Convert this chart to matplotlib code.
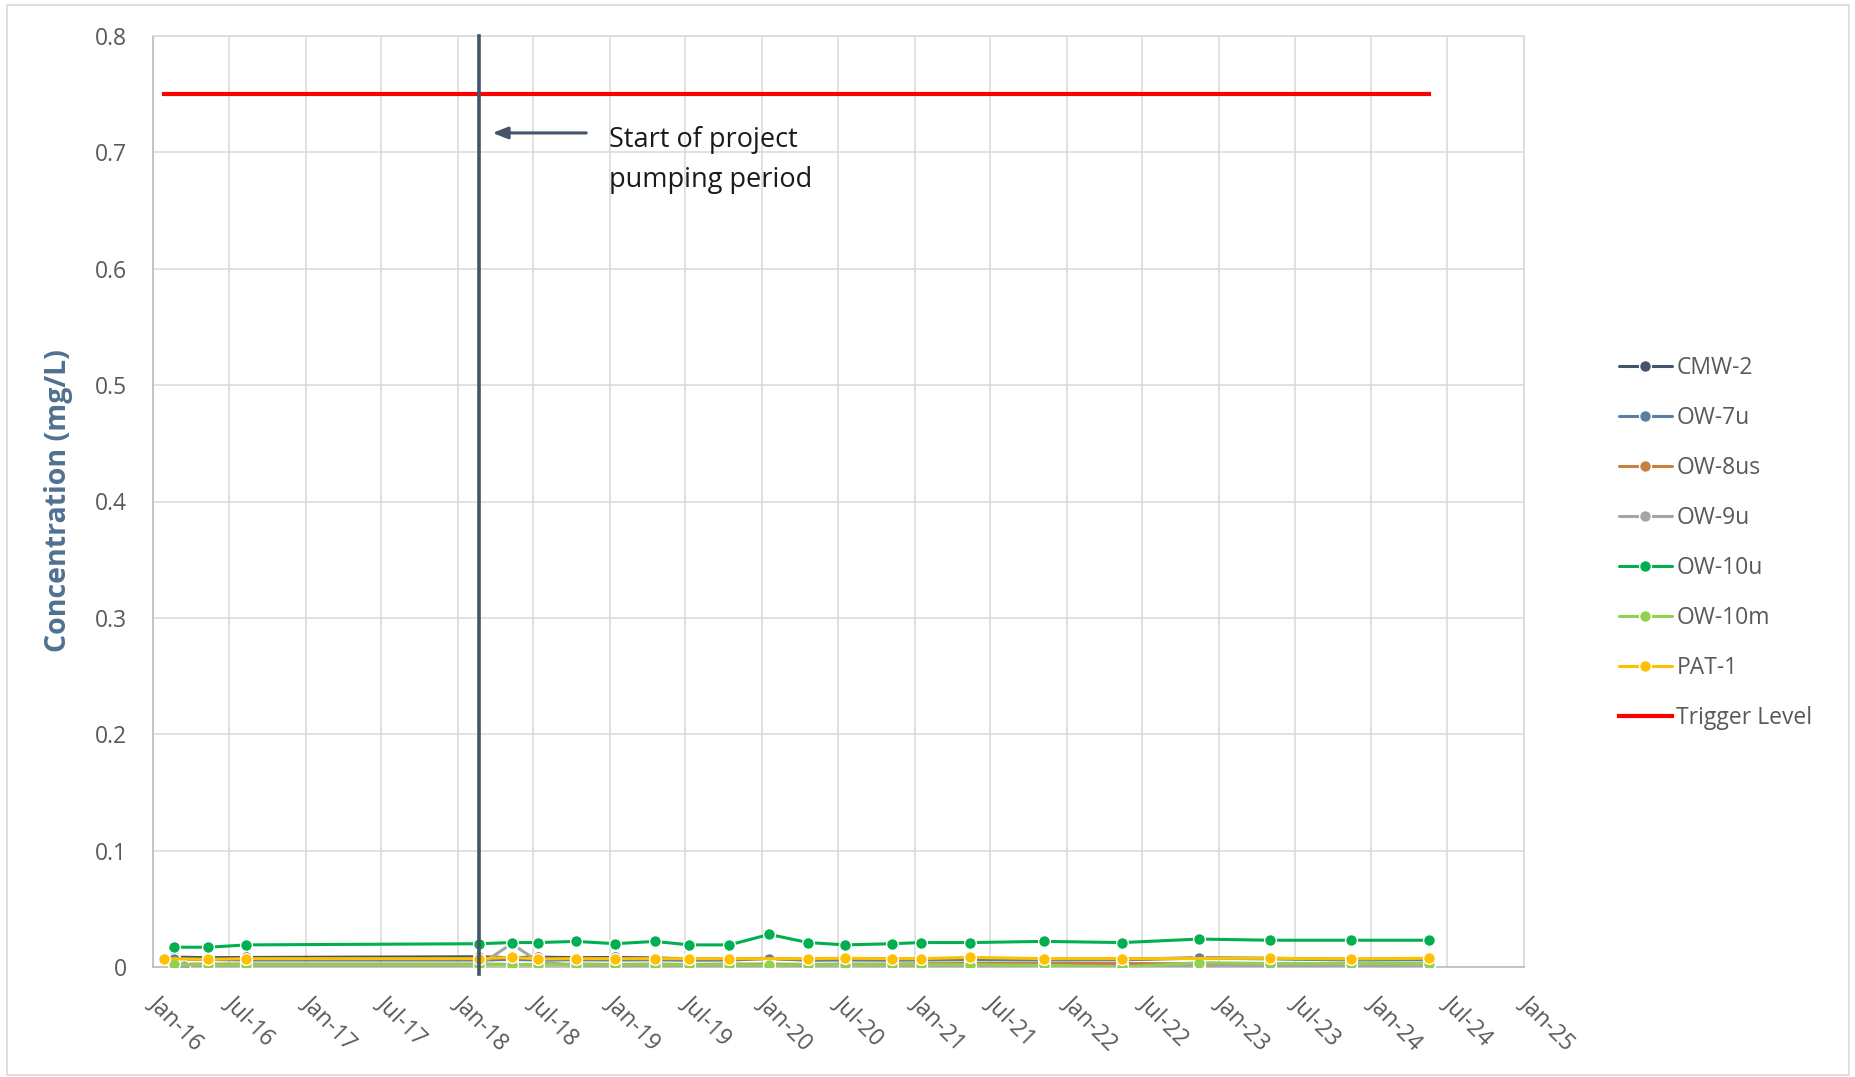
import numpy as np
import matplotlib
matplotlib.use("Agg")
import matplotlib.pyplot as plt
import matplotlib.dates as mdates
from matplotlib.patches import Rectangle
from matplotlib.transforms import ScaledTranslation

plt.rcParams['font.family'] = ['Open Sans', 'DejaVu Sans']

nan = np.nan
dates = ['2016-01-27', '2016-02-20', '2016-03-15', '2016-05-13', '2016-08-12',
         '2018-02-22', '2018-05-10', '2018-07-12', '2018-10-12', '2019-01-14',
         '2019-04-18', '2019-07-10', '2019-10-14', '2020-01-18', '2020-04-20',
         '2020-07-18', '2020-11-08', '2021-01-16', '2021-05-14', '2021-11-06',
         '2022-05-14', '2022-11-14', '2023-05-04', '2023-11-12', '2024-05-18']

cmw2 = [nan, 0.0085, nan, 0.0080, 0.0082, 0.0088, 0.0080, 0.0085, 0.0080, 0.0082, 0.0078, 0.0070, 0.0068,
        0.0075, 0.0062, 0.0068, 0.0068, 0.0065, 0.0070, 0.0065, 0.0068, 0.0078, 0.0075, 0.0065, 0.0068]
ow7u = [nan, 0.0070, nan, 0.0065, 0.0060, 0.0060, 0.0065, 0.0060, 0.0062, 0.0060, 0.0062, 0.0058, 0.0060,
        0.0072, 0.0058, 0.0060, 0.0058, 0.0060, 0.0062, 0.0060, 0.0062, 0.0076, 0.0070, 0.0060, 0.0062]
ow8us = [nan, 0.0025, nan, 0.0025, 0.0025, 0.0025, 0.0022, 0.0020, 0.0025, 0.0022, 0.0025, 0.0022, 0.0025,
         0.0025, 0.0022, 0.0025, 0.0025, 0.0028, 0.0030, 0.0030, 0.0030, 0.0028, 0.0025, 0.0025, 0.0025]
ow9u = [nan, nan, 0.0005, 0.0010, 0.0010, 0.0015, 0.0200, 0.0050, 0.0010, 0.0010, 0.0010, 0.0010, 0.0010,
        0.0010, 0.0010, 0.0020, 0.0010, 0.0010, 0.0010, 0.0010, 0.0005, 0.0010, 0.0010, 0.0005, 0.0000]
ow10u = [nan, 0.017, nan, 0.017, 0.019, 0.020, 0.021, 0.021, 0.022, 0.020, 0.022, 0.019, 0.019,
         0.028, 0.021, 0.019, 0.020, 0.021, 0.021, 0.022, 0.021, 0.024, 0.023, 0.023, 0.023]
ow10m = [nan, 0.0022, nan, 0.0020, 0.0020, 0.0020, 0.0020, 0.0020, 0.0020, 0.0020, 0.0020, 0.0020, 0.0020,
         0.0017, 0.0020, 0.0020, 0.0020, 0.0020, 0.0020, 0.0015, 0.0000, 0.0037, 0.0030, 0.0030, 0.0030]
pat1 = [0.0072, nan, nan, 0.0066, 0.0072, 0.0072, 0.0083, 0.0070, 0.0072, 0.0072, 0.0072, 0.0072, 0.0072,
        nan, 0.0072, 0.0075, 0.0072, 0.0072, 0.0083, 0.0072, 0.0072, nan, 0.0075, 0.0070, 0.0075]

trigger_level = 0.75
trigger_dates = ['2016-01-27', '2024-05-18']
start_date = '2018-02-21'

series_names = ['CMW-2', 'OW-7u', 'OW-8us', 'OW-9u', 'OW-10u', 'OW-10m', 'PAT-1']
series_values = [cmw2, ow7u, ow8us, ow9u, ow10u, ow10m, pat1]
series_colors = ['#44546A', '#5B7F9E', '#C9803F', '#A5A5A5', '#00B050', '#92D050', '#FFC000']

y_ticks = [0, 0.1, 0.2, 0.3, 0.4, 0.5, 0.6, 0.7, 0.8]
y_tick_labels = ['0', '0.1', '0.2', '0.3', '0.4', '0.5', '0.6', '0.7', '0.8']

W, H = 1855, 1077
fig = plt.figure(figsize=(W / 100, H / 100), dpi=100)
ax = fig.add_axes([153 / W, 1 - 967 / H, (1524 - 153) / W, (967 - 36) / H])

x = mdates.date2num(np.array(dates, dtype='datetime64[D]'))

handles = []
for name, vals, col in zip(series_names, series_values, series_colors):
    v = np.array(vals, dtype=float)
    m = ~np.isnan(v)
    h, = ax.plot(x[m], v[m], color=col, lw=2.2, marker='o', markersize=8.5,
                 markerfacecolor=col, markeredgecolor='white', markeredgewidth=1.0,
                 label=name, zorder=3, solid_capstyle='round')
    handles.append(h)
handles[4].set_zorder(3.5)

tx = mdates.date2num(np.array(trigger_dates, dtype='datetime64[D]'))
ht, = ax.plot(tx, [trigger_level, trigger_level], color='#FF0000', lw=3.0, label='Trigger Level', zorder=4)
handles.append(ht)

sx = mdates.date2num(np.datetime64(start_date))
ax.plot([sx, sx], [-0.006, 0.8], color='#44546A', lw=2.6, zorder=6, clip_on=False)

ax.annotate('', xy=(sx + 32, 0.7167), xytext=(sx + 257, 0.7167),
            arrowprops=dict(arrowstyle='-|>,head_length=0.9,head_width=0.35', color='#44546A', lw=2.2,
                            shrinkA=0, shrinkB=0),
            zorder=6)
ax.text(sx + 312, 0.7049, 'Start of project', fontsize=19.5, color='#1A1A1A', ha='left', va='baseline')
ax.text(sx + 312, 0.6705, 'pumping period', fontsize=19.5, color='#1A1A1A', ha='left', va='baseline')

ax.set_xlim(mdates.date2num(np.datetime64('2016-01-01')), mdates.date2num(np.datetime64('2025-01-01')))
ax.set_ylim(0, 0.8)
ax.xaxis.set_major_locator(mdates.MonthLocator(bymonth=[1, 7]))
ax.xaxis.set_major_formatter(mdates.DateFormatter('%b-%y'))
ax.set_yticks(y_ticks)
ax.set_yticklabels(y_tick_labels)

ax.grid(True, color='#D9D9D9', lw=1.1, zorder=0)
ax.set_axisbelow(True)
for s in ['top', 'right']:
    ax.spines[s].set_color('#D9D9D9')
    ax.spines[s].set_linewidth(1.1)
for s in ['left', 'bottom']:
    ax.spines[s].set_color('#BFBFBF')
    ax.spines[s].set_linewidth(1.3)

ax.tick_params(axis='y', length=0, pad=19, labelsize=16.5, labelcolor='#595959')
ax.tick_params(axis='x', length=0, pad=17, labelsize=16.5, labelcolor='#595959')
shift = ScaledTranslation(9 / 100, 0, fig.dpi_scale_trans)
for lab in ax.get_xticklabels():
    lab.set_rotation(-45)
    lab.set_ha('left')
    lab.set_va('top')
    lab.set_rotation_mode('anchor')
    lab.set_transform(lab.get_transform() + shift)

fig.text(59 / W, 1 - 501 / H, 'Concentration (mg/L)', rotation=90, ha='center', va='center',
         fontsize=20.5, fontweight='bold', color='#4F7190')

leg = fig.legend(handles=handles, loc='center left', bbox_to_anchor=(1619 / W, 1 - 543 / H),
                 frameon=False, fontsize=16.5, handlelength=2.3, handletextpad=0.2,
                 labelspacing=1.14, borderpad=0, borderaxespad=0, numpoints=1)
for t in leg.get_texts():
    t.set_color('#595959')

fig.patches.append(Rectangle((7 / W, 2 / H), (1849 - 7) / W, (1072 - 2) / H, transform=fig.transFigure,
                             fill=False, edgecolor='#D9D9D9', lw=1.2))

fig.savefig('out.png', dpi=100)
